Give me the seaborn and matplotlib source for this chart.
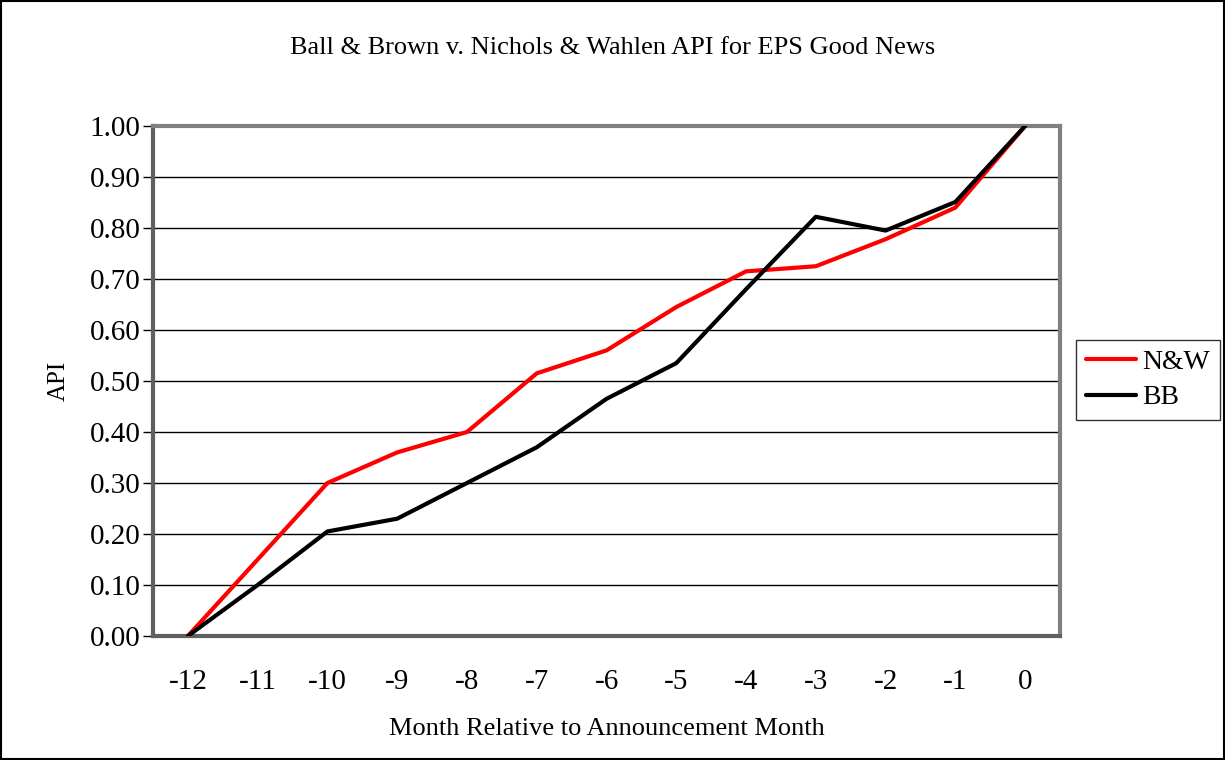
import numpy as np
import pandas as pd
import matplotlib
matplotlib.use("Agg")
import matplotlib.pyplot as plt
from matplotlib.lines import Line2D
import seaborn as sns

# values
months = [-12, -11, -10, -9, -8, -7, -6, -5, -4, -3, -2, -1, 0]
nw_api = [0.00, 0.15, 0.30, 0.36, 0.40, 0.515, 0.56, 0.645, 0.715, 0.725, 0.778, 0.84, 1.00]
bb_api = [0.00, 0.10, 0.205, 0.23, 0.30, 0.37, 0.465, 0.535, 0.68, 0.822, 0.795, 0.851, 1.00]
series_names = ["N&W", "BB"]
y_ticks = [0.0, 0.1, 0.2, 0.3, 0.4, 0.5, 0.6, 0.7, 0.8, 0.9, 1.0]

df = pd.DataFrame({
    "month": months * 2,
    "API": nw_api + bb_api,
    "series": [series_names[0]] * len(months) + [series_names[1]] * len(months),
})

sns.set_style("white")
plt.rcParams["font.family"] = ["Liberation Serif", "DejaVu Serif"]
plt.rcParams["text.color"] = "black"
plt.rcParams["axes.labelcolor"] = "black"
plt.rcParams["xtick.color"] = "black"
plt.rcParams["ytick.color"] = "black"

fig = plt.figure(figsize=(12.25, 7.6), dpi=100)
ax = fig.add_axes([153 / 1225, 1 - 636 / 760, 907 / 1225, 510 / 760])

# horizontal gridlines
for v in y_ticks[1:]:
    ax.axhline(v, color="black", lw=1.0, zorder=1)

sns.lineplot(data=df, x="month", y="API", hue="series", hue_order=series_names,
             palette={"N&W": "#ff0000", "BB": "#000000"}, linewidth=3.0,
             ax=ax, legend=False, zorder=3)

ax.set_xlim(-12.5, 0.5)
ax.set_ylim(0, 1.0)
ax.set_yticks(y_ticks)
ax.set_yticklabels([f"{v:.2f}" for v in y_ticks], fontsize=21)
ax.set_xticks(months)
ax.set_xticklabels([str(m) for m in months], fontsize=21)
ax.set_xticks(np.arange(-12.5, 1.0, 1.0), minor=True)
ax.tick_params(axis="x", which="major", length=0, pad=24)
ax.tick_params(axis="x", which="minor", length=7, width=1, color="black", direction="out")
ax.tick_params(axis="y", length=7, width=1, color="black", direction="out", left=True, pad=2)

for s in ax.spines.values():
    s.set_color("#808080")
    s.set_linewidth(3)
    s.set_visible(True)
ax.spines["left"].set_color("#606060")
ax.spines["bottom"].set_color("#606060")

ax.set_xlabel("Month Relative to Announcement Month", fontsize=19, labelpad=16)
ax.set_ylabel("API", fontsize=18, labelpad=14)

fig.text(0.5, 1 - 48 / 760, "Ball & Brown v. Nichols & Wahlen API for EPS Good News",
         ha="center", va="center", fontsize=19)

handles = [Line2D([], [], color="#ff0000", lw=3.0), Line2D([], [], color="black", lw=3.0)]
leg = fig.legend(handles, series_names, loc="center", fontsize=20,
                 bbox_to_anchor=(1148 / 1225, 1 - 380 / 760), frameon=True, fancybox=False,
                 handlelength=1.8, handletextpad=0.25, borderpad=0.35, labelspacing=0.35,
                 borderaxespad=0)
leg.get_frame().set_edgecolor("black")
leg.get_frame().set_linewidth(1)

# outer chart border
fig.patches.append(plt.Rectangle((0.001, 0.001), 0.998, 0.998, transform=fig.transFigure,
                                 fill=False, edgecolor="black", lw=1.5))

fig.savefig("out.png", dpi=100, facecolor="white")
